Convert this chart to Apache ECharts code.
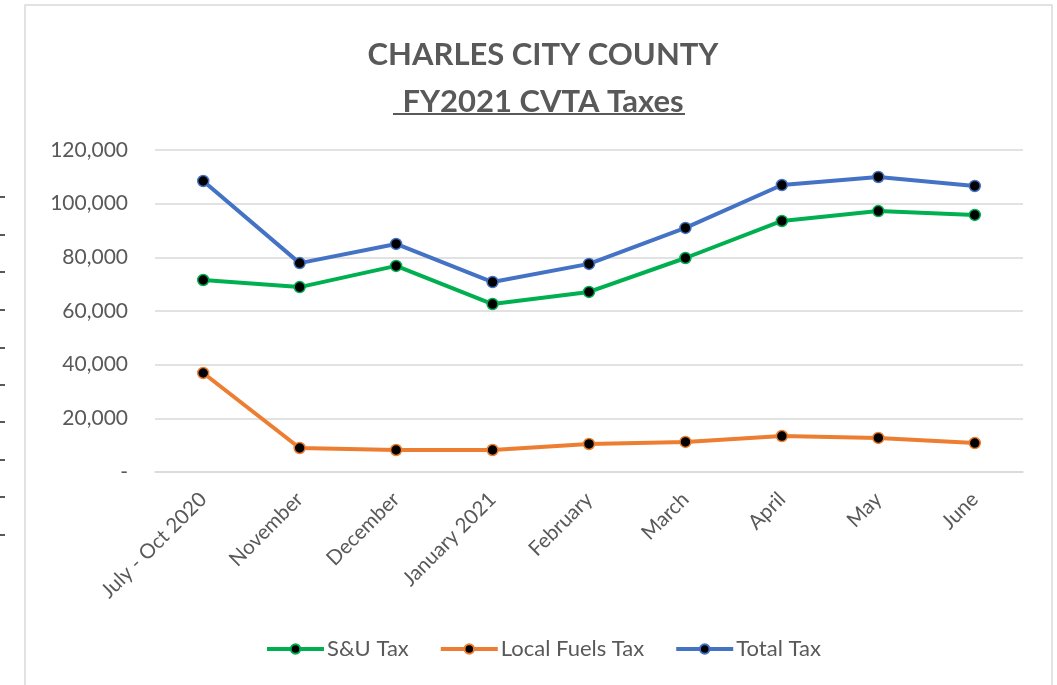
<!DOCTYPE html>
<html>
<head>
<meta charset="utf-8">
<script src="https://cdn.jsdelivr.net/npm/echarts@6/dist/echarts.min.js"></script>
<style>
  html, body { margin: 0; padding: 0; background: #fff; }
  #chart { width: 1057px; height: 685px; }
</style>
</head>
<body>
<div id="chart"></div>
<script>
// 月份
const months = ["July - Oct 2020", "November", "December", "January 2021", "February", "March", "April", "May", "June"];
// 各项税收
const suTax = [71550, 68900, 76800, 62600, 67100, 79750, 93550, 97250, 95800];
const fuelsTax = [36900, 8950, 8200, 8200, 10450, 11200, 13400, 12700, 10800];
const totalTax = [108450, 77850, 85000, 70800, 77550, 90950, 106950, 109950, 106600];
const yTicks = [0, 20000, 40000, 60000, 80000, 100000, 120000];

const chartDom = document.getElementById("chart");
const myChart = echarts.init(chartDom, null, { renderer: "canvas" });

const font = "Lato";
const grey = "#595959";

const makeSeries = (name, color, values) => ({
  name: name,
  type: "line",
  data: values,
  symbol: "circle",
  symbolSize: 11,
  lineStyle: { color: color, width: 4 },
  itemStyle: { color: "#000", borderColor: color, borderWidth: 1.5 },
  emphasis: { disabled: true },
});

// 左侧残留的短横线
const dashes = [197, 235, 272, 310, 348, 385, 422, 460, 497, 535].map((y) => ({
  type: "line",
  shape: { x1: 0, y1: y, x2: 5, y2: y },
  style: { stroke: "#222", lineWidth: 1.5 },
}));

const option = {
  backgroundColor: "#fff",
  textStyle: { fontFamily: font, color: grey },
  animation: false,
  title: {
    text: "CHARLES CITY COUNTY\nFY2021 CVTA Taxes",
    left: 538,
    textAlign: "center",
    top: 26,
    textStyle: {
      fontFamily: font,
      fontSize: 31,
      fontWeight: "bold",
      color: grey,
      lineHeight: 47,
    },
  },
  grid: { left: 155, right: 34, top: 150, bottom: 213, containLabel: false },
  legend: {
    bottom: 20,
    left: 260,
    itemWidth: 57,
    itemHeight: 12,
    itemGap: 30,
    lineStyle: { width: 4 },
    textStyle: { fontFamily: font, fontSize: 22, color: grey, padding: [0, 0, 0, -2] },
    data: ["S&U Tax", "Local Fuels Tax", "Total Tax"],
  },
  xAxis: {
    type: "category",
    data: months,
    boundaryGap: true,
    axisLine: { show: true, lineStyle: { color: "#d9d9d9", width: 1.5 } },
    axisTick: { show: false },
    axisLabel: {
      interval: 0,
      rotate: 45,
      fontFamily: font,
      fontSize: 20.5,
      color: grey,
      margin: 24,
    },
  },
  yAxis: {
    type: "value",
    min: 0,
    max: 120000,
    interval: 20000,
    axisLine: { show: false },
    axisTick: { show: false },
    splitLine: { lineStyle: { color: "#d9d9d9", width: 1.5 } },
    axisLabel: {
      fontFamily: font,
      fontSize: 21,
      color: grey,
      margin: 27,
      customValues: yTicks,
      formatter: (v) => (v === 0 ? "-" : v.toLocaleString("en-US")),
    },
  },
  graphic: [
    {
      type: "rect",
      shape: { x: 25, y: 5, width: 1027, height: 700 },
      style: { fill: "none", stroke: "#d9d9d9", lineWidth: 1.5 },
      silent: true,
    },
    {
      type: "rect",
      shape: { x: 393, y: 113, width: 292, height: 2 },
      style: { fill: grey },
      silent: true,
    },
    ...dashes,
  ],
  series: [
    makeSeries("S&U Tax", "#00B050", suTax),
    makeSeries("Local Fuels Tax", "#ED7D31", fuelsTax),
    makeSeries("Total Tax", "#4472C4", totalTax),
  ],
};

myChart.setOption(option);
window.addEventListener("resize", () => {
  myChart.resize();
});
</script>
</body>
</html>
